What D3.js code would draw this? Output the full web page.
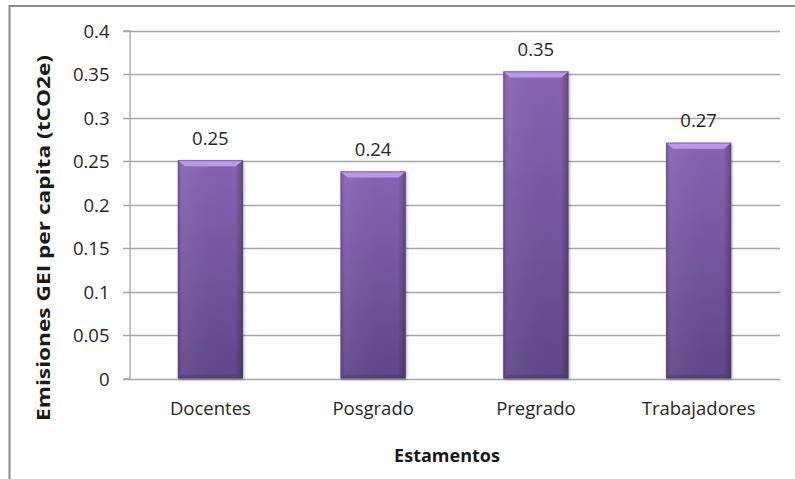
<!DOCTYPE html>
<html>
<head>
<meta charset="utf-8">
<script src="https://cdn.jsdelivr.net/npm/d3@7/dist/d3.min.js"></script>
<style>
  html, body { margin: 0; padding: 0; background: #fff; }
  svg { display: block; font-family: "Open Sans", "Noto Sans", sans-serif; }
</style>
</head>
<body>
<svg id="chart" width="795" height="479"></svg>
<script>
// Per-capita GHG emissions by university group
const categories = ["Docentes", "Posgrado", "Pregrado", "Trabajadores"];
const emissions = [0.251, 0.238, 0.353, 0.271];
const tickValues = [0, 0.05, 0.1, 0.15, 0.2, 0.25, 0.3, 0.35, 0.4];
const tickLabels = ["0", "0.05", "0.1", "0.15", "0.2", "0.25", "0.3", "0.35", "0.4"];
const yTitle = "Emisiones GEI per capita (tCO2e)";
const xTitle = "Estamentos";

const svg = d3.select("#chart");
const W = 795, H = 479;
const plot = { left: 129, right: 780, top: 30.5, bottom: 378.5 };
const labelSize = 18.5;

const x = d3.scaleBand()
  .domain(categories)
  .range([plot.left, plot.right])
  .paddingInner(0.6)
  .paddingOuter(0.3);

const y = d3.scaleLinear()
  .domain([0, 0.4])
  .range([plot.bottom, plot.top]);

// Gradients and shadow for the bevelled bars
const defs = svg.append("defs");
const body = defs.append("linearGradient").attr("id", "barBody")
  .attr("x1", 0).attr("y1", 0).attr("x2", 0).attr("y2", 1);
body.append("stop").attr("offset", "0%").attr("stop-color", "#8863b4");
body.append("stop").attr("offset", "100%").attr("stop-color", "#5f4788");

const side = defs.append("linearGradient").attr("id", "barSide")
  .attr("x1", 0).attr("y1", 0).attr("x2", 1).attr("y2", 0);
side.append("stop").attr("offset", "0%").attr("stop-color", "#000").attr("stop-opacity", 0.10);
side.append("stop").attr("offset", "8%").attr("stop-color", "#fff").attr("stop-opacity", 0.06);
side.append("stop").attr("offset", "88%").attr("stop-color", "#000").attr("stop-opacity", 0.0);
side.append("stop").attr("offset", "100%").attr("stop-color", "#000").attr("stop-opacity", 0.25);

const shadow = defs.append("filter").attr("id", "barShadow")
  .attr("x", "-20%").attr("y", "-10%").attr("width", "140%").attr("height", "120%");
shadow.append("feGaussianBlur").attr("in", "SourceAlpha").attr("stdDeviation", 1.5);
shadow.append("feOffset").attr("dx", 1).attr("dy", 1).attr("result", "b");
shadow.append("feComponentTransfer").append("feFuncA").attr("type", "linear").attr("slope", 0.35);
const merge = shadow.append("feMerge");
merge.append("feMergeNode");
merge.append("feMergeNode").attr("in", "SourceGraphic");

// Outer chart frame (runs off the right and bottom edges)
svg.append("rect")
  .attr("x", 9.5).attr("y", 6)
  .attr("width", W + 20).attr("height", H + 20)
  .attr("fill", "none")
  .attr("stroke", "#8a8a8a")
  .attr("stroke-width", 2);

// Horizontal gridlines
svg.append("g")
  .selectAll("line")
  .data(tickValues)
  .join("line")
  .attr("x1", plot.left - 6)
  .attr("x2", plot.right)
  .attr("y1", d => Math.round(y(d)) + 0.5)
  .attr("y2", d => Math.round(y(d)) + 0.5)
  .attr("stroke", "#a6a6a6")
  .attr("stroke-width", 1.3);

// Y axis
const yAxis = d3.axisLeft(y)
  .tickValues(tickValues)
  .tickFormat((d, i) => tickLabels[i])
  .tickSize(6)
  .tickPadding(14);

const gy = svg.append("g")
  .attr("transform", `translate(${plot.left + 0.5},0)`)
  .call(yAxis);
gy.select(".domain").attr("stroke", "#a6a6a6").attr("stroke-width", 1.3);
gy.selectAll(".tick line").attr("stroke", "none");
gy.selectAll(".tick text")
  .attr("font-size", labelSize)
  .attr("fill", "#262626")
  .attr("font-family", "'Open Sans', sans-serif")
  .attr("dy", "0.36em");

// X axis (category names)
const xAxis = d3.axisBottom(x).tickSize(0).tickPadding(23);
const gx = svg.append("g")
  .attr("transform", `translate(0,${plot.bottom})`)
  .call(xAxis);
gx.select(".domain").remove();
gx.selectAll(".tick text")
  .attr("font-size", labelSize)
  .attr("fill", "#262626")
  .attr("font-family", "'Open Sans', sans-serif");

// Bars
const bars = svg.append("g")
  .selectAll("g.bar")
  .data(categories.map((c, i) => ({ c, v: emissions[i] })))
  .join("g")
  .attr("class", "bar");

const bw = x.bandwidth();
const bevel = 7;

bars.append("rect")
  .attr("x", d => x(d.c))
  .attr("y", d => y(d.v))
  .attr("width", bw)
  .attr("height", d => y(0) - y(d.v))
  .attr("fill", "url(#barBody)")
  .attr("filter", "url(#barShadow)");

bars.append("rect")
  .attr("x", d => x(d.c))
  .attr("y", d => y(d.v))
  .attr("width", bw)
  .attr("height", d => y(0) - y(d.v))
  .attr("fill", "url(#barSide)");

// top bevel highlight
bars.append("path")
  .attr("d", d => {
    const x0 = x(d.c), x1 = x0 + bw, t = y(d.v);
    return `M${x0},${t}L${x1},${t}L${x1 - bevel},${t + bevel - 1}L${x0 + bevel},${t + bevel - 1}Z`;
  })
  .attr("fill", "#b99ae6");

// bottom bevel shade
bars.append("path")
  .attr("d", d => {
    const x0 = x(d.c), x1 = x0 + bw, b = y(0);
    return `M${x0},${b}L${x1},${b}L${x1 - 5},${b - 4}L${x0 + 5},${b - 4}Z`;
  })
  .attr("fill", "#4a3670")
  .attr("opacity", 0.45);

// thin outline
bars.append("rect")
  .attr("x", d => x(d.c) + 0.5)
  .attr("y", d => y(d.v) + 0.5)
  .attr("width", bw - 1)
  .attr("height", d => y(0) - y(d.v) - 1)
  .attr("fill", "none")
  .attr("stroke", "#563f7c")
  .attr("stroke-opacity", 0.5)
  .attr("stroke-width", 1);

// Value labels
bars.append("text")
  .attr("x", d => x(d.c) + bw / 2)
  .attr("y", d => y(d.v) - 15.5)
  .attr("text-anchor", "middle")
  .attr("font-size", labelSize)
  .attr("fill", "#262626")
  .text(d => d3.format(".2f")(d.v));

// Axis titles
svg.append("text")
  .attr("transform", `translate(50,238) rotate(-90)`)
  .attr("text-anchor", "middle")
  .attr("font-size", 18)
  .attr("font-weight", "bold")
  .attr("fill", "#1a1a1a")
  .attr("textLength", 366)
  .attr("lengthAdjust", "spacingAndGlyphs")
  .text(yTitle);

svg.append("text")
  .attr("x", 447)
  .attr("y", 462)
  .attr("text-anchor", "middle")
  .attr("font-size", 18)
  .attr("font-weight", "bold")
  .attr("fill", "#1a1a1a")
  .text(xTitle);
</script>
</body>
</html>
